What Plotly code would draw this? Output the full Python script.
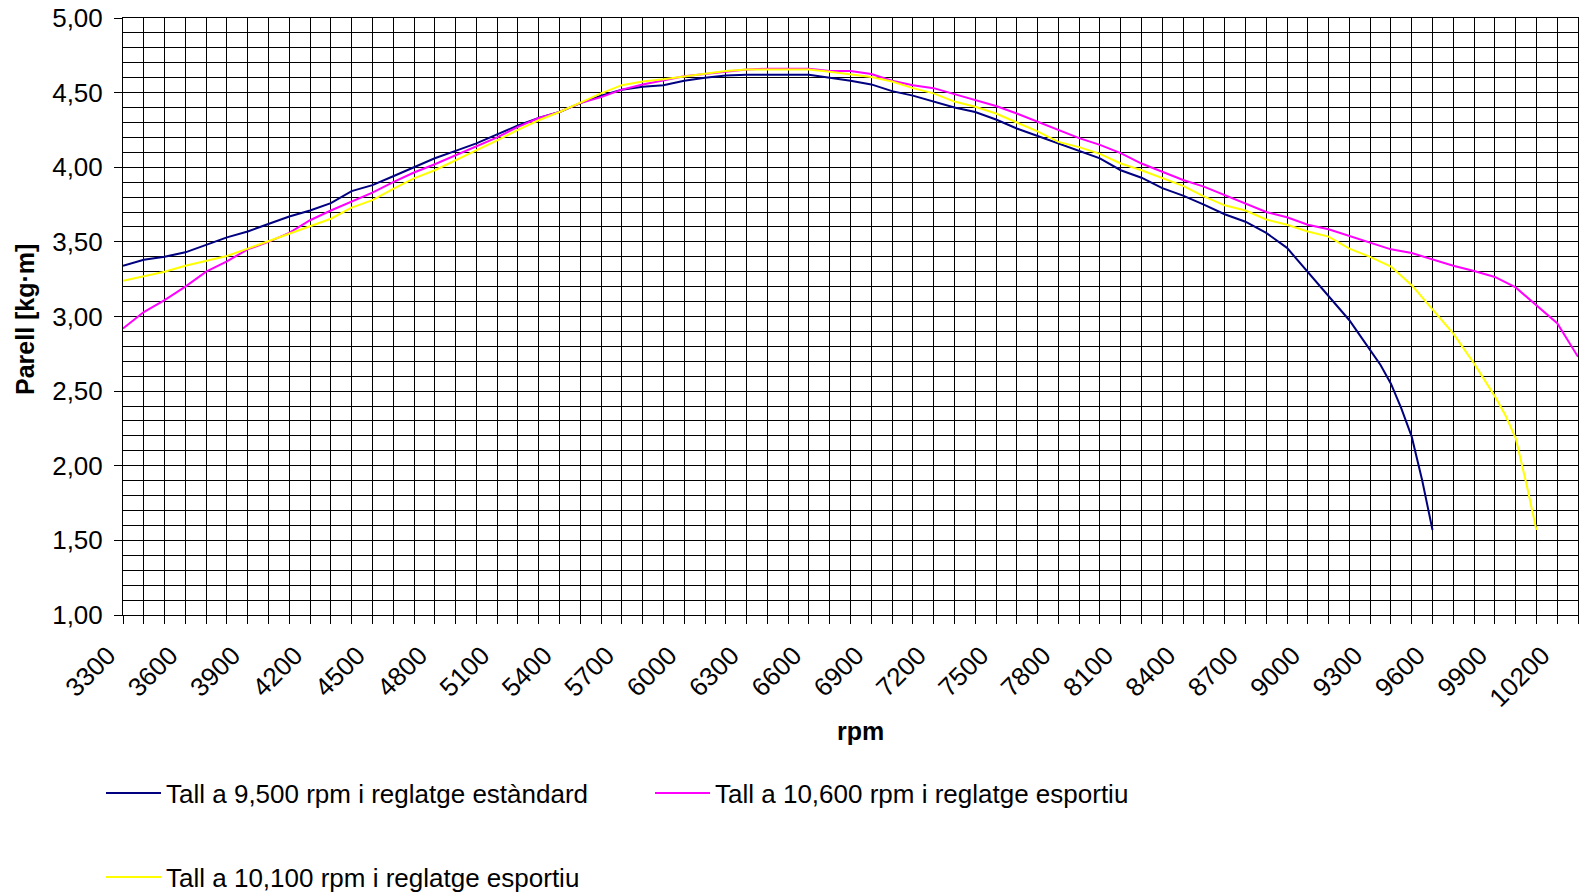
import plotly.graph_objects as go

# ---- data ----
rpm_std = [3300, 3400, 3500, 3600, 3700, 3800, 3900, 4000, 4100, 4200, 4300, 4400, 4500, 4600, 4700,
           4800, 4900, 5000, 5100, 5200, 5300, 5400, 5500, 5600, 5700, 5800, 5900, 6000, 6100, 6200,
           6300, 6400, 6500, 6600, 6700, 6800, 6900, 7000, 7100, 7200, 7300, 7400, 7500, 7600, 7700,
           7800, 7900, 8000, 8100, 8200, 8300, 8400, 8500, 8600, 8700, 8800, 8900, 9000, 9050, 9100,
           9150, 9200, 9250, 9300, 9350, 9400, 9450, 9500, 9550, 9600]
torque_std = [3.34, 3.38, 3.40, 3.43, 3.48, 3.53, 3.57, 3.62, 3.67, 3.71, 3.76, 3.84, 3.88, 3.94, 4.00,
              4.06, 4.11, 4.16, 4.22, 4.28, 4.33, 4.37, 4.43, 4.48, 4.52, 4.54, 4.55, 4.58, 4.60, 4.615,
              4.62, 4.62, 4.62, 4.62, 4.60, 4.58, 4.555, 4.51, 4.48, 4.44, 4.40, 4.37, 4.32, 4.26, 4.21,
              4.155, 4.105, 4.06, 3.98, 3.93, 3.86, 3.81, 3.75, 3.685, 3.635, 3.56, 3.46, 3.30, 3.22, 3.14,
              3.06, 2.975, 2.875, 2.775, 2.675, 2.55, 2.385, 2.195, 1.905, 1.57]

rpm_10600 = [3300, 3400, 3500, 3600, 3700, 3800, 3900, 4000, 4100, 4200, 4300, 4400, 4500, 4600, 4700,
             4800, 4900, 5000, 5100, 5200, 5300, 5400, 5500, 5600, 5700, 5800, 5900, 6000, 6100, 6200,
             6300, 6400, 6500, 6600, 6700, 6800, 6900, 7000, 7100, 7200, 7300, 7400, 7500, 7600, 7700,
             7800, 7900, 8000, 8100, 8200, 8300, 8400, 8500, 8600, 8700, 8800, 8900, 9000, 9100, 9200,
             9300, 9400, 9500, 9600, 9700, 9800, 9900, 10000, 10100, 10200, 10300]
torque_10600 = [2.92, 3.03, 3.11, 3.20, 3.30, 3.37, 3.45, 3.50, 3.56, 3.645, 3.71, 3.77, 3.83, 3.90, 3.965,
                4.02, 4.08, 4.14, 4.20, 4.27, 4.33, 4.37, 4.43, 4.47, 4.52, 4.555, 4.58, 4.61, 4.625, 4.64,
                4.655, 4.66, 4.66, 4.66, 4.645, 4.645, 4.625, 4.58, 4.55, 4.53, 4.49, 4.45, 4.41, 4.36, 4.305,
                4.25, 4.195, 4.15, 4.095, 4.025, 3.97, 3.915, 3.87, 3.815, 3.76, 3.70, 3.665, 3.615, 3.585, 3.54,
                3.49, 3.45, 3.425, 3.38, 3.34, 3.305, 3.265, 3.195, 3.075, 2.955, 2.73]

rpm_10100 = [3300, 3400, 3500, 3600, 3700, 3800, 3900, 4000, 4100, 4200, 4300, 4400, 4500, 4600, 4700,
             4800, 4900, 5000, 5100, 5200, 5300, 5400, 5500, 5600, 5700, 5800, 5900, 6000, 6100, 6200,
             6300, 6400, 6500, 6600, 6700, 6800, 6900, 7000, 7100, 7200, 7300, 7400, 7500, 7600, 7700,
             7800, 7900, 8000, 8100, 8200, 8300, 8400, 8500, 8600, 8700, 8800, 8900, 9000, 9100, 9200,
             9300, 9400, 9500, 9600, 9700, 9800, 9900, 9950, 10000, 10050, 10100]
torque_10100 = [3.24, 3.27, 3.30, 3.34, 3.37, 3.405, 3.455, 3.505, 3.56, 3.61, 3.655, 3.73, 3.78, 3.855, 3.925,
                3.98, 4.045, 4.11, 4.18, 4.25, 4.315, 4.37, 4.435, 4.495, 4.55, 4.575, 4.59, 4.61, 4.63, 4.645,
                4.655, 4.655, 4.655, 4.655, 4.64, 4.625, 4.605, 4.575, 4.53, 4.495, 4.44, 4.405, 4.36, 4.30, 4.24,
                4.17, 4.135, 4.09, 4.025, 3.98, 3.925, 3.875, 3.805, 3.745, 3.71, 3.65, 3.615, 3.57, 3.535, 3.455,
                3.40, 3.335, 3.21, 3.045, 2.885, 2.685, 2.465, 2.34, 2.185, 1.89, 1.57]

series_names = ["Tall a 9,500 rpm i reglatge estàndard",
                "Tall a 10,600 rpm i reglatge esportiu",
                "Tall a 10,100 rpm i reglatge esportiu"]
series_colors = ["#000080", "#FF00FF", "#FFFF00"]

x_tickvals = [3300, 3600, 3900, 4200, 4500, 4800, 5100, 5400, 5700, 6000, 6300, 6600, 6900, 7200,
              7500, 7800, 8100, 8400, 8700, 9000, 9300, 9600, 9900, 10200]
x_ticktext = [str(v) for v in x_tickvals]
y_tickvals = [1.0, 1.5, 2.0, 2.5, 3.0, 3.5, 4.0, 4.5, 5.0]
y_ticktext = ["1,00", "1,50", "2,00", "2,50", "3,00", "3,50", "4,00", "4,50", "5,00"]

FONT = "Liberation Sans, Arial, sans-serif"

fig = go.Figure()
fig.add_trace(go.Scatter(x=rpm_std, y=torque_std, mode="lines", name=series_names[0],
                         line=dict(color=series_colors[0], width=2), legend="legend"))
fig.add_trace(go.Scatter(x=rpm_10600, y=torque_10600, mode="lines", name=series_names[1],
                         line=dict(color=series_colors[1], width=2), legend="legend2"))
fig.add_trace(go.Scatter(x=rpm_10100, y=torque_10100, mode="lines", name=series_names[2],
                         line=dict(color=series_colors[2], width=2), legend="legend3"))

L, R, T, B = 123, 6, 18, 279
W, H = 1584, 894
pw, ph = W - L - R, H - T - B


def px2x(px):
    return (px - L) / pw


def py2y(py):
    return (H - B - py) / ph


legend_common = dict(orientation="h", xanchor="left", yanchor="middle", bgcolor="rgba(0,0,0,0)",
                     font=dict(family=FONT, size=26, color="black"), itemwidth=55)

fig.update_layout(
    width=W, height=H,
    margin=dict(l=L, r=R, t=T, b=B, autoexpand=False),
    paper_bgcolor="white", plot_bgcolor="white",
    font=dict(family=FONT, size=25, color="black"),
    showlegend=True,
    legend=dict(x=px2x(101), y=py2y(793), **legend_common),
    legend2=dict(x=px2x(650), y=py2y(793), **legend_common),
    legend3=dict(x=px2x(101), y=py2y(877), **legend_common),
    xaxis=dict(
        range=[3300, 10300], tickmode="array", tickvals=x_tickvals, ticktext=x_ticktext,
        tickangle=-45, ticks="outside", ticklen=8, tickcolor="black",
        ticklabelshift=-15, ticklabelstandoff=6,
        showgrid=True, gridcolor="black", gridwidth=1,
        showline=True, linecolor="black", linewidth=1, mirror=True,
        zeroline=False, tickfont=dict(family=FONT, size=26, color="black"),
        minor=dict(tick0=3300, dtick=100, showgrid=True, gridcolor="black", gridwidth=1,
                   ticks="outside", ticklen=8, tickcolor="black"),
    ),
    yaxis=dict(
        range=[1, 5], tickmode="array", tickvals=y_tickvals, ticktext=y_ticktext,
        ticks="outside", ticklen=8, tickcolor="black", ticklabelstandoff=6,
        showgrid=True, gridcolor="black", gridwidth=1,
        showline=True, linecolor="black", linewidth=1, mirror=True,
        zeroline=False, tickfont=dict(family=FONT, size=26, color="black"),
        minor=dict(tick0=1, dtick=0.1, showgrid=True, gridcolor="black", gridwidth=1),
    ),
    annotations=[
        dict(text="<b>rpm</b>", x=px2x(860), y=py2y(731), xref="paper", yref="paper",
             xanchor="center", yanchor="middle", showarrow=False,
             font=dict(family=FONT, size=25, color="black")),
        dict(text="<b>Parell [kg·m]</b>", x=px2x(25), y=py2y(320), xref="paper", yref="paper",
             xanchor="center", yanchor="middle", showarrow=False, textangle=-90,
             font=dict(family=FONT, size=25, color="black")),
    ],
)

fig.write_html("out.html", config={"displayModeBar": False},
               post_script="document.body.style.margin='0';document.body.style.overflow='hidden';")
